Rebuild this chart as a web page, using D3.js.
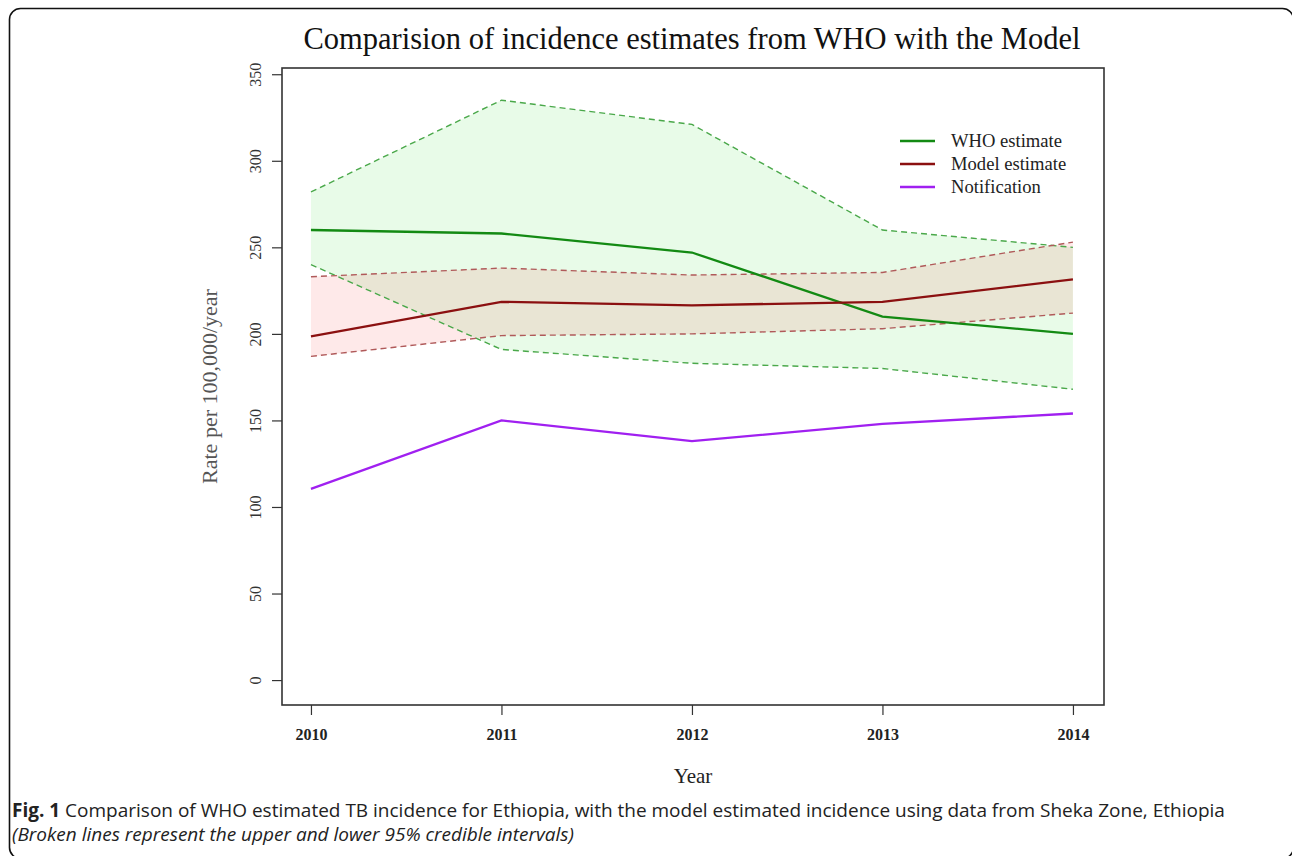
<!DOCTYPE html>
<html>
<head>
<meta charset="utf-8">
<script src="https://cdn.jsdelivr.net/npm/d3@7"></script>
<style>
  body { margin: 0; background: #fff; }
  svg { display: block; }
</style>
</head>
<body>
<svg></svg>
<script>
let years = [2010, 2011, 2012, 2013, 2014];
let whoEstimate = [260, 258, 247, 210, 200];
let whoUpper = [282, 335, 321, 260, 250];
let whoLower = [240, 191, 183, 180, 168];
let modelEstimate = [198.5, 218.5, 216.5, 218.5, 231.5];
let modelUpper = [233, 238, 234, 235.5, 253];
let modelLower = [187, 199, 200, 203, 212];
let notification = [110.5, 150, 138, 148, 154];
let yTicks = [0, 50, 100, 150, 200, 250, 300, 350];

let width = 1292;
let height = 856;
let plotLeft = 282, plotRight = 1104, plotTop = 68, plotBottom = 705;

let svg = d3.select('svg')
  .attr('width', width)
  .attr('height', height)

// figure frame (runs off the right and bottom edges)
svg.append('rect')
  .attr('x', 9.5).attr('y', 8.5)
  .attr('width', 1284).attr('height', 850)
  .attr('rx', 11)
  .attr('fill', 'none')
  .attr('stroke', '#111')
  .attr('stroke-width', 1.6)

let xScale = d3.scaleLinear()
  .domain([2009.848, 2014.163])
  .range([plotLeft, plotRight])

let yScale = d3.scaleLinear()
  .domain([-14.4, 353.6])
  .range([plotBottom, plotTop])

let rows = (a, b) => years.map((y, i) => ({ year: y, lo: a[i], hi: b[i] }))

let area = d3.area()
  .x(d => xScale(d.year))
  .y0(d => yScale(d.lo))
  .y1(d => yScale(d.hi))

let line = (vals) => d3.line()
  .x((d, i) => xScale(years[i]))
  .y(d => yScale(d))(vals)

// bands
svg.append('path')
  .attr('d', area(rows(whoLower, whoUpper)))
  .attr('fill', 'rgb(0,210,0)')
  .attr('fill-opacity', 0.09)

svg.append('path')
  .attr('d', area(rows(modelLower, modelUpper)))
  .attr('fill', 'rgb(240,0,0)')
  .attr('fill-opacity', 0.085)

// dashed bounds
let dashed = [
  [whoUpper, '#4aa84a'],
  [whoLower, '#4aa84a'],
  [modelUpper, '#b05a5a'],
  [modelLower, '#b05a5a']
]
dashed.forEach(([vals, col]) => {
  svg.append('path')
    .attr('d', line(vals))
    .attr('fill', 'none')
    .attr('stroke', col)
    .attr('stroke-width', 1.4)
    .attr('stroke-dasharray', '6,4')
})

// main lines
let series = [
  ['WHO estimate', whoEstimate, '#138a13'],
  ['Model estimate', modelEstimate, '#8b1010'],
  ['Notification', notification, '#a020f0']
]
series.forEach(([name, vals, col]) => {
  svg.append('path')
    .attr('d', line(vals))
    .attr('fill', 'none')
    .attr('stroke', col)
    .attr('stroke-width', 2.3)
})

// plot box
svg.append('rect')
  .attr('x', plotLeft).attr('y', plotTop)
  .attr('width', plotRight - plotLeft).attr('height', plotBottom - plotTop)
  .attr('fill', 'none')
  .attr('stroke', '#333')
  .attr('stroke-width', 1.6)

// axes
let xAxis = d3.axisBottom(xScale)
  .tickValues(years)
  .tickFormat(d3.format('d'))
  .tickSize(10)
  .tickPadding(14)

let gx = svg.append('g')
  .attr('transform', `translate(0, ${plotBottom})`)
  .call(xAxis)
gx.select('.domain').remove()
gx.selectAll('line').attr('stroke', '#333').attr('stroke-width', 1.2)
gx.selectAll('text')
  .attr('font-family', 'Liberation Serif, serif')
  .attr('font-size', 16)
  .attr('font-weight', 'bold')
  .attr('fill', '#222')

let yAxis = d3.axisLeft(yScale)
  .tickValues(yTicks)
  .tickSize(10)
  .tickPadding(10)

let gy = svg.append('g')
  .attr('transform', `translate(${plotLeft}, 0)`)
  .call(yAxis)
gy.select('.domain').remove()
gy.selectAll('line').attr('stroke', '#333').attr('stroke-width', 1.2)
// R style: tick labels rotated to read upwards
gy.selectAll('text')
  .attr('font-family', 'Liberation Serif, serif')
  .attr('font-size', 16)
  .attr('fill', '#333')
  .attr('text-anchor', 'middle')
  .attr('dominant-baseline', 'central')
  .attr('x', 0).attr('y', 0).attr('dy', null)
  .attr('transform', 'translate(-27, 0) rotate(-90)')

// titles
svg.append('text')
  .attr('x', 692).attr('y', 49)
  .attr('text-anchor', 'middle')
  .attr('font-family', 'Liberation Serif, serif')
  .attr('font-size', 30.5)
  .attr('fill', '#111')
  .text('Comparision of incidence estimates from WHO with the Model')

svg.append('text')
  .attr('x', 693).attr('y', 783)
  .attr('text-anchor', 'middle')
  .attr('font-family', 'Liberation Serif, serif')
  .attr('font-size', 21)
  .attr('fill', '#222')
  .text('Year')

svg.append('text')
  .attr('transform', `translate(217, ${(plotTop + plotBottom) / 2}) rotate(-90)`)
  .attr('text-anchor', 'middle')
  .attr('font-family', 'Liberation Serif, serif')
  .attr('font-size', 22)
  .attr('fill', '#555')
  .text('Rate per 100,000/year')

// legend
let legend = svg.append('g')
series.forEach(([name, vals, col], i) => {
  let y = 141 + i * 23
  legend.append('line')
    .attr('x1', 900).attr('x2', 935)
    .attr('y1', y).attr('y2', y)
    .attr('stroke', col)
    .attr('stroke-width', 2.3)
  legend.append('text')
    .attr('x', 951).attr('y', y + 6)
    .attr('font-family', 'Liberation Serif, serif')
    .attr('font-size', 18.6)
    .attr('fill', '#222')
    .text(name)
})

// caption
let cap = svg.append('text')
  .attr('x', 12).attr('y', 817)
  .attr('font-family', 'Open Sans, sans-serif')
  .attr('font-size', 19)
  .attr('fill', '#222')
cap.append('tspan').attr('font-weight', 'bold').text('Fig. 1')
cap.append('tspan').text(' Comparison of WHO estimated TB incidence for Ethiopia, with the model estimated incidence using data from Sheka Zone, Ethiopia')

svg.append('text')
  .attr('x', 12).attr('y', 841)
  .attr('font-family', 'Open Sans, sans-serif')
  .attr('font-size', 19)
  .attr('font-style', 'italic')
  .attr('fill', '#222')
  .text('(Broken lines represent the upper and lower 95% credible intervals)')
</script>
</body>
</html>
